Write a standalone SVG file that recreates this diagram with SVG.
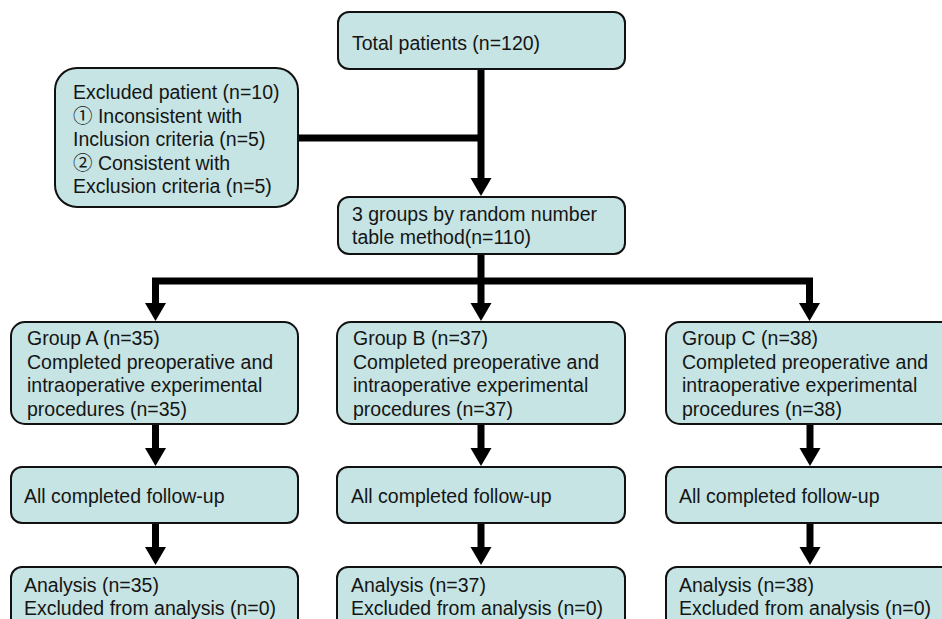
<svg xmlns="http://www.w3.org/2000/svg" width="942" height="619" viewBox="0 0 942 619">
<style>
.box{fill:#c5e4e3;stroke:#111;stroke-width:2}
.t{font-family:"Liberation Sans","Noto Sans CJK SC",sans-serif;font-size:19.5px;fill:#151515}
.c{fill:none;stroke:#000;stroke-width:7;stroke-linejoin:miter}
</style>
<defs>
<marker id="ah" markerUnits="userSpaceOnUse" markerWidth="20" markerHeight="22" refX="0" refY="10.5" orient="auto" viewBox="0 0 20 22">
<path d="M0,0 L18,10.5 L0,21 z" fill="#000"/>
</marker>
</defs>
<rect width="942" height="619" fill="#fff"/>
<g id="connectors">
<path class="c" d="M481,69 V178" marker-end="url(#ah)"/>
<path class="c" d="M298,138 H481"/>
<path class="c" d="M481,254 V303" marker-end="url(#ah)"/>
<path class="c" d="M481,281 H155.5 V303" marker-end="url(#ah)"/>
<path class="c" d="M481,281 H809.5 V303" marker-end="url(#ah)"/>
<path class="c" d="M155.5,424 V448" marker-end="url(#ah)"/>
<path class="c" d="M481,424 V448" marker-end="url(#ah)"/>
<path class="c" d="M810,424 V448" marker-end="url(#ah)"/>
<path class="c" d="M155.5,523 V547" marker-end="url(#ah)"/>
<path class="c" d="M481,523 V547" marker-end="url(#ah)"/>
<path class="c" d="M810,523 V547" marker-end="url(#ah)"/>
</g>
<g id="total">
<rect class="box" x="338" y="12" width="287" height="57" rx="11"/>
<text class="t" x="352" y="50">Total patients (n=120)</text>
</g>
<g id="excluded">
<rect class="box" x="55" y="68" width="243" height="139" rx="22"/>
<text class="t" x="73" y="99">Excluded patient (n=10)</text>
<text class="t" x="73" y="122.5">① Inconsistent with</text>
<text class="t" x="73" y="146">Inclusion criteria (n=5)</text>
<text class="t" x="73" y="169.5">② Consistent with</text>
<text class="t" x="73" y="193">Exclusion criteria (n=5)</text>
</g>
<g id="random">
<rect class="box" x="338" y="197" width="287" height="57" rx="11"/>
<text class="t" x="352" y="221">3 groups by random number</text>
<text class="t" x="352" y="244">table method(n=110)</text>
</g>
<g id="groupA">
<rect class="box" x="11" y="322" width="287" height="102" rx="14"/>
<text class="t" x="27" y="345">Group A (n=35)</text>
<text class="t" x="27" y="368.5">Completed preoperative and</text>
<text class="t" x="27" y="392">intraoperative experimental</text>
<text class="t" x="27" y="415.5">procedures (n=35)</text>
</g>
<g id="groupB">
<rect class="box" x="337" y="322" width="288" height="102" rx="14"/>
<text class="t" x="353" y="345">Group B (n=37)</text>
<text class="t" x="353" y="368.5">Completed preoperative and</text>
<text class="t" x="353" y="392">intraoperative experimental</text>
<text class="t" x="353" y="415.5">procedures (n=37)</text>
</g>
<g id="groupC">
<rect class="box" x="666" y="322" width="300" height="102" rx="14"/>
<text class="t" x="682" y="345">Group C (n=38)</text>
<text class="t" x="682" y="368.5">Completed preoperative and</text>
<text class="t" x="682" y="392">intraoperative experimental</text>
<text class="t" x="682" y="415.5">procedures (n=38)</text>
</g>
<g id="followA">
<rect class="box" x="11" y="467" width="287" height="56" rx="11"/>
<text class="t" x="24" y="503">All completed follow-up</text>
</g>
<g id="followB">
<rect class="box" x="337" y="467" width="288" height="56" rx="11"/>
<text class="t" x="351" y="503">All completed follow-up</text>
</g>
<g id="followC">
<rect class="box" x="666" y="467" width="300" height="56" rx="11"/>
<text class="t" x="679" y="503">All completed follow-up</text>
</g>
<g id="analysisA">
<rect class="box" x="11" y="567" width="287" height="80" rx="11"/>
<text class="t" x="24" y="592">Analysis (n=35)</text>
<text class="t" x="24" y="615">Excluded from analysis (n=0)</text>
</g>
<g id="analysisB">
<rect class="box" x="337" y="567" width="288" height="80" rx="11"/>
<text class="t" x="351" y="592">Analysis (n=37)</text>
<text class="t" x="351" y="615">Excluded from analysis (n=0)</text>
</g>
<g id="analysisC">
<rect class="box" x="666" y="567" width="300" height="80" rx="11"/>
<text class="t" x="679" y="592">Analysis (n=38)</text>
<text class="t" x="679" y="615">Excluded from analysis (n=0)</text>
</g>
</svg>
